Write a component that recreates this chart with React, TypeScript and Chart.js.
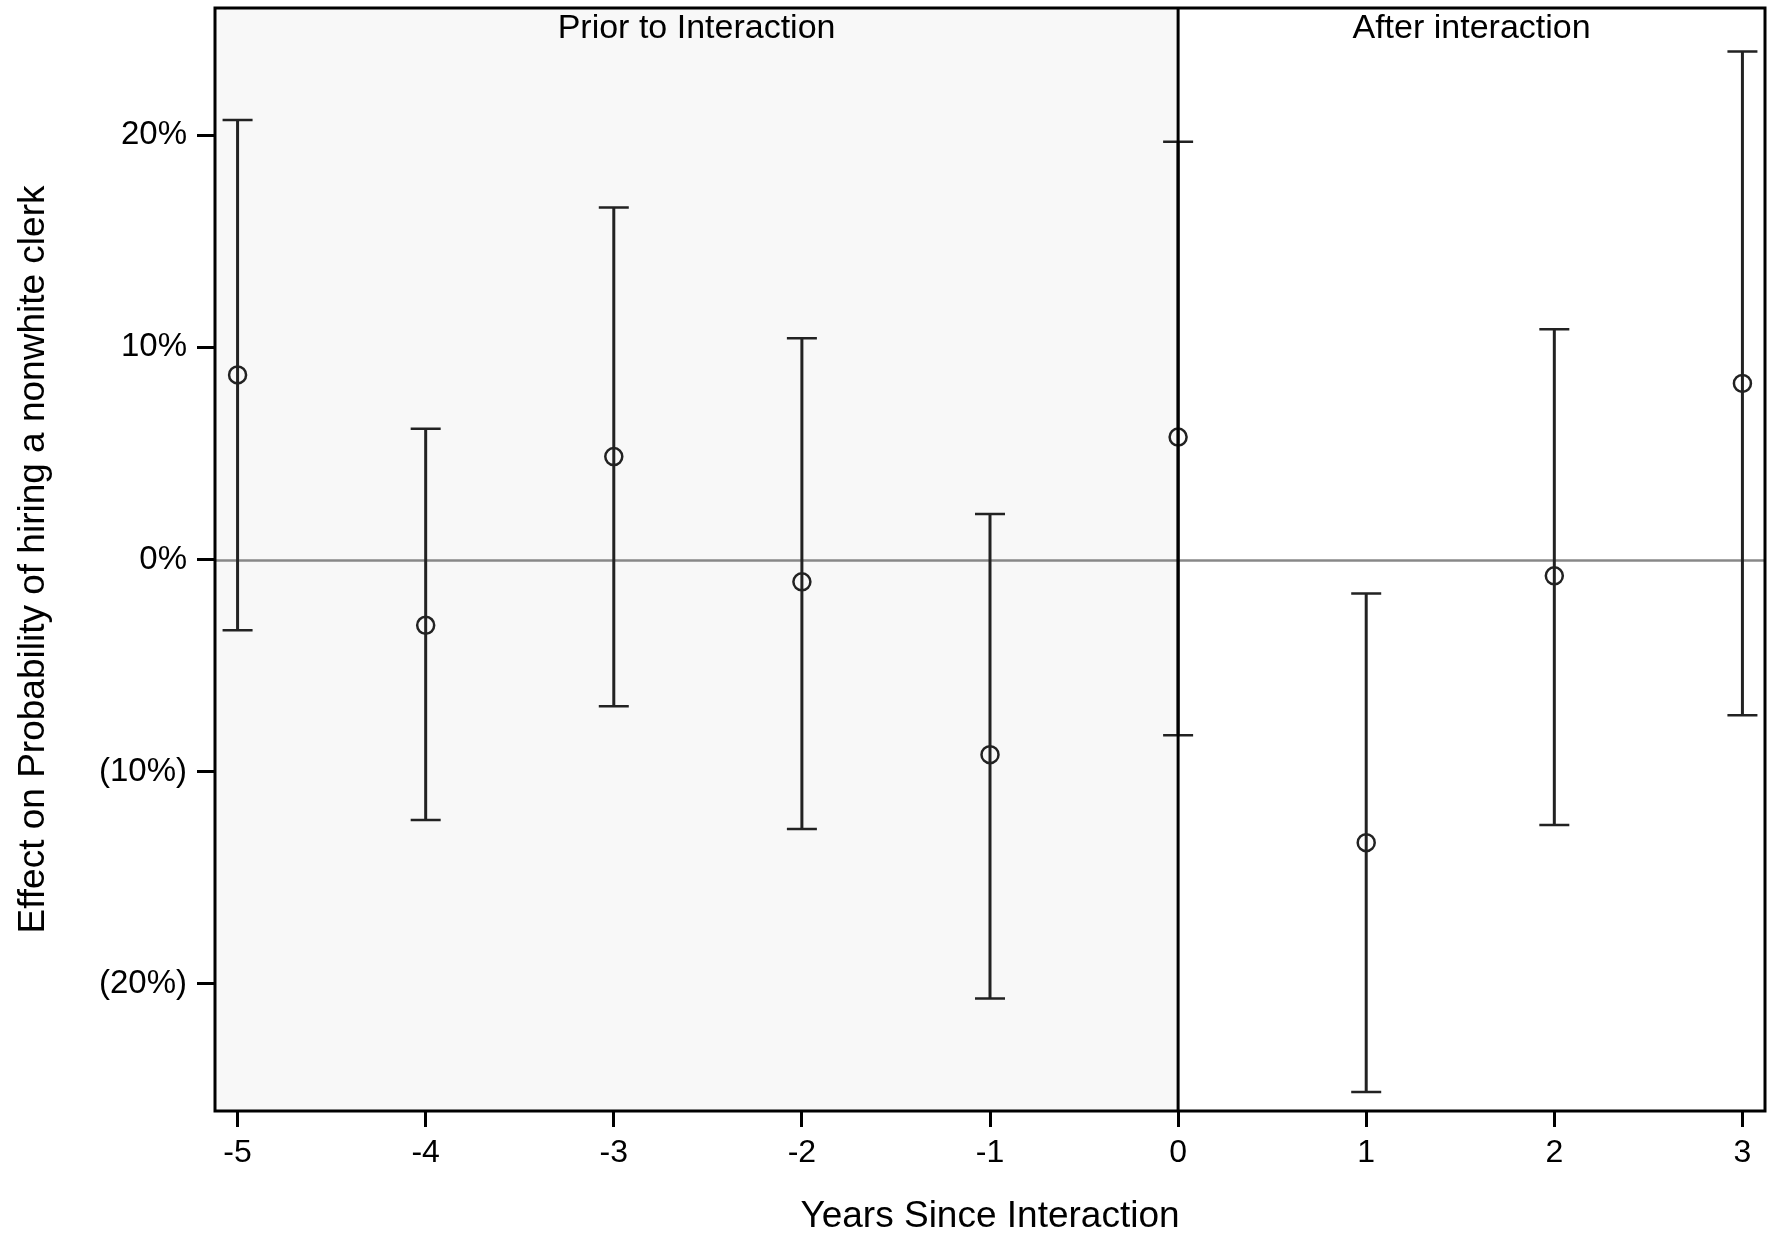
import React, { useEffect, useRef } from "react";
import { Chart, registerables } from "chart.js";

Chart.register(...registerables);

// ---- Data ----
const years = [-5, -4, -3, -2, -1, 0, 1, 2, 3];
const estimates = [8.7, -3.1, 4.85, -1.05, -9.2, 5.77, -13.35, -0.77, 8.3];
const upperCI = [20.72, 6.16, 16.6, 10.43, 2.14, 19.69, -1.6, 10.85, 23.95];
const lowerCI = [-3.34, -12.28, -6.92, -12.7, -20.7, -8.28, -25.1, -12.52, -7.34];

const xTickValues = [-5, -4, -3, -2, -1, 0, 1, 2, 3];
const yTickValues = [20, 10, 0, -10, -20];
const yTickLabels = ["20%", "10%", "0%", "(10%)", "(20%)"];

const panelLabels = ["Prior to Interaction", "After interaction"];
const xTitle = "Years Since Interaction";
const yTitle = "Effect on Probability of hiring a nonwhite clerk";

const X_MIN = -5.12;
const X_MAX = 3.12;
const Y_MIN = -26;
const Y_MAX = 26;
const DIVIDER_X = 0;
const REFERENCE_Y = 0;

const FONT = "'Liberation Sans', Arial, Helvetica, sans-serif";

const decorPlugin = {
  id: "decor",
  beforeDatasetsDraw(chart: any) {
    const { ctx, chartArea, scales } = chart;
    const xs = scales.x;
    const ys = scales.y;
    const { left, right, top, bottom } = chartArea;
    const xDiv = xs.getPixelForValue(DIVIDER_X);
    ctx.save();
    // shaded "prior" region
    ctx.fillStyle = "#f8f8f8";
    ctx.fillRect(left, top, xDiv - left, bottom - top);
    ctx.fillStyle = "#ffffff";
    ctx.fillRect(xDiv, top, right - xDiv, bottom - top);
    // reference line at 0
    const y0 = Math.round(ys.getPixelForValue(REFERENCE_Y)) + 0.5;
    ctx.strokeStyle = "#888888";
    ctx.lineWidth = 2.5;
    ctx.beginPath();
    ctx.moveTo(left, y0);
    ctx.lineTo(right, y0);
    ctx.stroke();
    // error bars
    ctx.strokeStyle = "#222222";
    for (let i = 0; i < years.length; i++) {
      const px = xs.getPixelForValue(years[i]);
      const pu = ys.getPixelForValue(upperCI[i]);
      const pl = ys.getPixelForValue(lowerCI[i]);
      ctx.lineWidth = 3;
      ctx.beginPath();
      ctx.moveTo(px, pu);
      ctx.lineTo(px, pl);
      ctx.stroke();
      ctx.lineWidth = 2.5;
      ctx.beginPath();
      ctx.moveTo(px - 15, pu);
      ctx.lineTo(px + 15, pu);
      ctx.moveTo(px - 15, pl);
      ctx.lineTo(px + 15, pl);
      ctx.stroke();
    }
    ctx.restore();
  },
  afterDatasetsDraw(chart: any) {
    const { ctx, chartArea, scales } = chart;
    const xs = scales.x;
    const { left, right, top, bottom } = chartArea;
    const xDiv = xs.getPixelForValue(DIVIDER_X);
    ctx.save();
    // divider line
    ctx.strokeStyle = "#000000";
    ctx.lineWidth = 3;
    ctx.beginPath();
    ctx.moveTo(xDiv, top);
    ctx.lineTo(xDiv, bottom);
    ctx.stroke();
    // panel labels
    ctx.fillStyle = "#000000";
    ctx.font = `34px ${FONT}`;
    ctx.textAlign = "center";
    ctx.textBaseline = "alphabetic";
    ctx.fillText(panelLabels[0], (left + xDiv) / 2, top + 30);
    ctx.fillText(panelLabels[1], (xDiv + right) / 2, top + 30);
    // frame
    ctx.lineWidth = 3;
    ctx.strokeRect(left, top, right - left, bottom - top);
    ctx.restore();
  },
};

function zeroPadding(scale: any) {
  scale.paddingTop = 0;
  scale.paddingBottom = 0;
  scale.paddingLeft = 0;
  scale.paddingRight = 0;
}

export default function App() {
  const canvasRef = useRef<HTMLCanvasElement | null>(null);

  useEffect(() => {
    document.body.style.margin = "0";
    const canvas = canvasRef.current;
    if (!canvas) return;
    Chart.defaults.font.family = FONT;
    Chart.defaults.color = "#000000";

    const chart = new Chart(canvas, {
      type: "scatter",
      data: {
        datasets: [
          {
            data: years.map((x, i) => ({ x, y: estimates[i] })),
            pointStyle: "circle",
            pointRadius: 8.5,
            pointHoverRadius: 8.5,
            pointBorderWidth: 2.5,
            pointBorderColor: "#222222",
            pointBackgroundColor: "rgba(0,0,0,0)",
            showLine: false,
            clip: false,
          } as any,
        ],
      },
      options: {
        animation: false,
        responsive: false,
        devicePixelRatio: 1,
        layout: {
          autoPadding: false,
          padding: { top: 8, right: 2, left: 0, bottom: 0 },
        },
        plugins: {
          legend: { display: false },
          tooltip: { enabled: false },
        },
        events: [],
        scales: {
          x: {
            type: "linear",
            min: X_MIN,
            max: X_MAX,
            afterFit: (scale: any) => {
              scale.height = 124;
              zeroPadding(scale);
            },
            afterBuildTicks: (scale: any) => {
              scale.ticks = xTickValues.map((v) => ({ value: v }));
            },
            grid: {
              display: true,
              drawOnChartArea: false,
              drawTicks: true,
              tickLength: 16,
              lineWidth: 3,
              color: "#000000",
            },
            border: { display: false },
            ticks: {
              autoSkip: false,
              maxRotation: 0,
              padding: 7,
              color: "#000000",
              font: { size: 32, family: FONT },
              callback: (v: any) => String(v),
            },
            title: {
              display: true,
              text: xTitle,
              color: "#000000",
              font: { size: 37, family: FONT, lineHeight: 1 },
              padding: { top: 0, bottom: 0 },
            },
          },
          y: {
            type: "linear",
            min: Y_MIN,
            max: Y_MAX,
            afterFit: (scale: any) => {
              scale.width = 215;
              zeroPadding(scale);
            },
            afterBuildTicks: (scale: any) => {
              scale.ticks = yTickValues.map((v) => ({ value: v }));
            },
            grid: {
              display: true,
              drawOnChartArea: false,
              drawTicks: true,
              tickLength: 18,
              lineWidth: 3,
              color: "#000000",
            },
            border: { display: false },
            ticks: {
              autoSkip: false,
              padding: 10,
              color: "#000000",
              font: { size: 33, family: FONT },
              callback: (v: any) => {
                const idx = yTickValues.indexOf(Number(v));
                return idx >= 0 ? yTickLabels[idx] : "";
              },
            },
            title: {
              display: true,
              text: yTitle,
              color: "#000000",
              font: { size: 37, family: FONT, lineHeight: 1 },
              padding: { top: 15, bottom: 0 },
            },
          },
        },
      } as any,
      plugins: [decorPlugin],
    });

    return () => {
      chart.destroy();
    };
  }, []);

  return (
    <div style={{ width: 1767, height: 1235, background: "#ffffff" }}>
      <canvas
        ref={canvasRef}
        width={1767}
        height={1235}
        style={{ display: "block", width: 1767, height: 1235 }}
      />
    </div>
  );
}
